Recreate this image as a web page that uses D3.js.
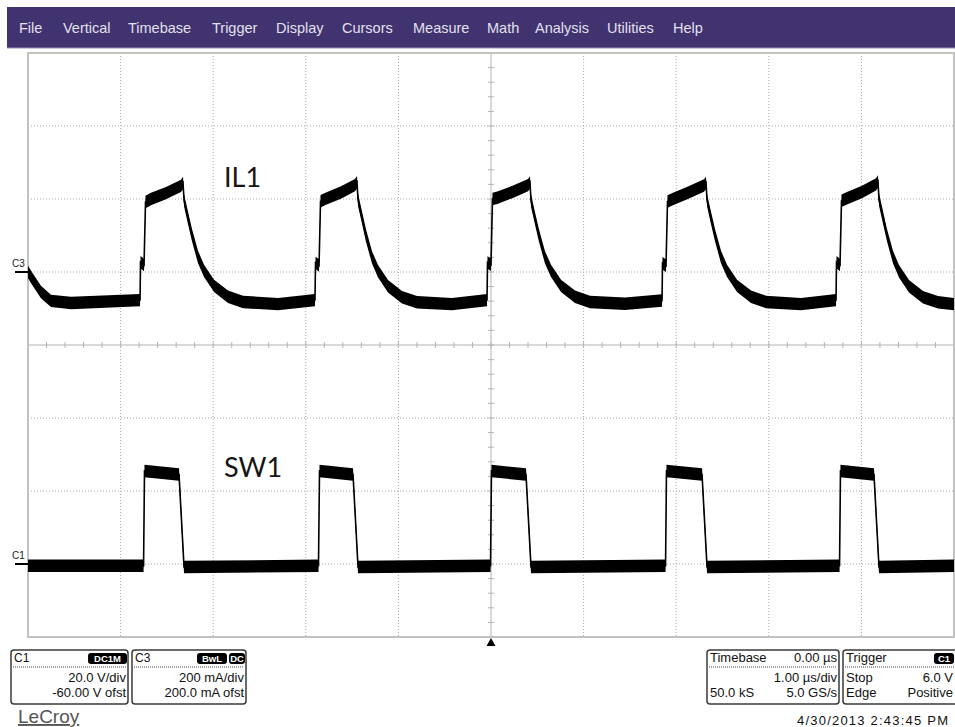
<!DOCTYPE html>
<html>
<head>
<meta charset="utf-8">
<script src="https://cdn.jsdelivr.net/npm/d3@7"></script>
<style>
body { margin: 0; background: #fff; }
svg { display: block; font-family: "Liberation Sans", Arial, sans-serif; }
</style>
</head>
<body>
<script>
// scope capture: menu, two traces (C3 = IL1 current, C1 = SW1 voltage), info boxes

var menuItems = ["File", "Vertical", "Timebase", "Trigger", "Display", "Cursors", "Measure", "Math", "Analysis", "Utilities", "Help"];
var menuX = [19, 63, 128, 212, 276, 342, 413, 487, 535, 607, 673];

// C3 trace, time in us, current in mA
var il1Time = [-5.0, -4.946, -4.860, -4.752, -4.536,
    -3.790, -3.785, -3.747, -3.731, -3.672, -3.510, -3.348, -3.326, -3.315, -3.272, -3.229, -3.164, -3.099, -2.991, -2.840, -2.678, -2.300,
    -1.901, -1.895, -1.857, -1.841, -1.782, -1.620, -1.469, -1.447, -1.436, -1.393, -1.350, -1.285, -1.220, -1.112, -0.961, -0.799, -0.421,
    -0.043, -0.038, 0.000, 0.016, 0.076, 0.238, 0.400, 0.421, 0.432, 0.475, 0.518, 0.583, 0.648, 0.756, 0.907, 1.069, 1.447,
    1.847, 1.852, 1.890, 1.906, 1.965, 2.127, 2.300, 2.322, 2.333, 2.376, 2.419, 2.484, 2.549, 2.657, 2.808, 2.970, 3.348,
    3.726, 3.731, 3.769, 3.785, 3.844, 4.006, 4.158, 4.179, 4.190, 4.233, 4.276, 4.341, 4.406, 4.514, 4.665, 4.827, 5.0];
var il1Current = [0, -22, -55, -79, -85,
    -77, 27, 19, 192, 200, 216, 236, 244, 197, 148, 101, 41, 3, -38, -68, -82, -88,
    -77, 25, 18, 194, 201, 218, 238, 246, 198, 149, 100, 40, 2, -39, -69, -83, -88,
    -77, 26, 20, 200, 204, 220, 238, 245, 196, 147, 100, 40, 3, -38, -68, -82, -87,
    -78, 24, 17, 193, 200, 217, 237, 244, 197, 148, 101, 41, 3, -38, -68, -82, -88,
    -77, 27, 19, 195, 202, 219, 240, 248, 199, 150, 101, 41, 2, -39, -69, -83, -88];
var il1Noise = 17; // half height of noise band, mA

// C1 trace, time in us, voltage in V
var sw1Time = [-5.0, -3.752, -3.742, -3.369, -3.315, -1.863, -1.852, -1.490, -1.436,
    -0.005, 0.005, 0.378, 0.432, 1.885, 1.895, 2.279, 2.333, 3.764, 3.774, 4.136, 4.190, 5.0];
var sw1Voltage = [-0.5, -0.5, 25.5, 24.5, -0.8, -0.5, 25.5, 24.5, -0.8,
    -0.5, 25.5, 24.5, -0.8, -0.5, 25.5, 24.5, -0.8, -0.5, 25.5, 24.5, -0.8, -0.5];
var sw1Noise = 1.7; // V

var traceLabels = ["IL1", "SW1"];

var svgWidth = 955;
var svgHeight = 727;
var gridLeft = 28, gridRight = 954, gridTop = 53, gridBottom = 637;

var svg = d3.select("body").append("svg")
    .attr("width", svgWidth)
    .attr("height", svgHeight);

svg.append("rect").attr("width", svgWidth).attr("height", svgHeight).attr("fill", "#fff");

// menu bar
svg.append("rect")
    .attr("x", 7).attr("y", 7)
    .attr("width", svgWidth - 7).attr("height", 41)
    .attr("fill", "#41336f");
svg.append("line")
    .attr("x1", 7).attr("x2", svgWidth)
    .attr("y1", 48).attr("y2", 48)
    .attr("stroke", "#9a92bf").attr("stroke-width", 1);

svg.selectAll(".menu")
    .data(menuItems)
    .enter()
    .append("text")
    .attr("class", "menu")
    .attr("x", function(d, i) { return menuX[i]; })
    .attr("y", 33)
    .attr("fill", "#e2e0ee")
    .attr("font-size", 14.5)
    .text(function(d) { return d; });

// scales: 10 horizontal divisions of 1 us, 8 vertical divisions
var x = d3.scaleLinear().domain([-5, 5]).range([gridLeft, gridRight]);
var yDiv = d3.scaleLinear().domain([-4, 4]).range([gridBottom, gridTop]);
// C3: 200 mA/div, 200 mA offset
var yC3 = d3.scaleLinear().domain([-1000, 600]).range([gridBottom, gridTop]);
// C1: 20 V/div, -60 V offset
var yC1 = d3.scaleLinear().domain([-20, 140]).range([gridBottom, gridTop]);

var grid = svg.append("g");

grid.selectAll(".vgrid")
    .data(d3.range(-4, 5).filter(function(d) { return d !== 0; }))
    .enter()
    .append("line")
    .attr("x1", function(d) { return x(d); })
    .attr("x2", function(d) { return x(d); })
    .attr("y1", gridTop).attr("y2", gridBottom)
    .attr("stroke", "#a8a8a8").attr("stroke-dasharray", "1,2");

grid.selectAll(".hgrid")
    .data(d3.range(-3, 4).filter(function(d) { return d !== 0; }))
    .enter()
    .append("line")
    .attr("x1", gridLeft).attr("x2", gridRight)
    .attr("y1", function(d) { return yDiv(d); })
    .attr("y2", function(d) { return yDiv(d); })
    .attr("stroke", "#a8a8a8").attr("stroke-dasharray", "1,2");

// centre cross with minor ticks
grid.append("line")
    .attr("x1", x(0)).attr("x2", x(0))
    .attr("y1", gridTop).attr("y2", gridBottom)
    .attr("stroke", "#b4b4b4");
grid.append("line")
    .attr("x1", gridLeft).attr("x2", gridRight)
    .attr("y1", yDiv(0)).attr("y2", yDiv(0))
    .attr("stroke", "#b4b4b4");

grid.selectAll(".xtick")
    .data(d3.range(-50, 51, 2))
    .enter()
    .append("line")
    .attr("x1", function(d) { return x(d / 10); })
    .attr("x2", function(d) { return x(d / 10); })
    .attr("y1", yDiv(0) - 3).attr("y2", yDiv(0) + 3)
    .attr("stroke", "#b4b4b4");

grid.selectAll(".ytick")
    .data(d3.range(-40, 41, 2))
    .enter()
    .append("line")
    .attr("x1", x(0) - 3).attr("x2", x(0) + 3)
    .attr("y1", function(d) { return yDiv(d / 10); })
    .attr("y2", function(d) { return yDiv(d / 10); })
    .attr("stroke", "#b4b4b4");

grid.append("rect")
    .attr("x", gridLeft).attr("y", gridTop)
    .attr("width", gridRight - gridLeft).attr("height", gridBottom - gridTop)
    .attr("fill", "none").attr("stroke", "#c2c2c2").attr("stroke-width", 2);

// traces
function drawTrace(times, values, noise, yScale) {
    var pts = d3.zip(times, values);
    var band = d3.area()
        .x(function(d) { return x(d[0]); })
        .y0(function(d) { return yScale(d[1] - noise); })
        .y1(function(d) { return yScale(d[1] + noise); });
    var line = d3.line()
        .x(function(d) { return x(d[0]); })
        .y(function(d) { return yScale(d[1]); });
    svg.append("path").datum(pts).attr("d", band).attr("fill", "#000");
    svg.append("path").datum(pts).attr("d", line)
        .attr("fill", "none").attr("stroke", "#000").attr("stroke-width", 1.6);
}

drawTrace(il1Time, il1Current, il1Noise, yC3);
drawTrace(sw1Time, sw1Voltage, sw1Noise, yC1);

// channel ground markers
[["C3", yC3(0)], ["C1", yC1(0)]].forEach(function(m) {
    svg.append("line")
        .attr("x1", 15).attr("x2", gridLeft)
        .attr("y1", m[1]).attr("y2", m[1])
        .attr("stroke", "#000").attr("stroke-width", 2);
    svg.append("text")
        .attr("x", 12).attr("y", m[1] - 5)
        .attr("font-size", 10).attr("fill", "#222")
        .text(m[0]);
});

// trace labels
svg.selectAll(".tlabel")
    .data(traceLabels)
    .enter()
    .append("text")
    .attr("class", "tlabel")
    .attr("x", function(d, i) { return i === 0 ? 224 : 224; })
    .attr("y", function(d, i) { return i === 0 ? 187 : 477; })
    .attr("font-family", "Lato, 'Open Sans', sans-serif")
    .attr("font-size", 27)
    .attr("fill", "#151515")
    .text(function(d) { return d; });

// trigger marker
svg.append("path")
    .attr("d", "M" + x(0) + ",638 l-4.5,8 l9,0 z")
    .attr("fill", "#000");

// info boxes
function badge(bx, by, w, label) {
    svg.append("rect")
        .attr("x", bx).attr("y", by).attr("width", w).attr("height", 11)
        .attr("rx", 3).attr("fill", "#000");
    svg.append("text")
        .attr("x", bx + w / 2).attr("y", by + 9)
        .attr("text-anchor", "middle")
        .attr("font-size", 9.5).attr("font-weight", "bold")
        .attr("fill", "#fff")
        .text(label);
}

function infoBox(bx, w, rows, headSize, rightEdge) {
    var by = 650, h = 54;
    var rx = rightEdge || (bx + w - 2);
    svg.append("rect")
        .attr("x", bx).attr("y", by).attr("width", w).attr("height", h)
        .attr("rx", 3).attr("fill", "#fff")
        .attr("stroke", "#3a3a3a").attr("stroke-width", 1.5);
    svg.append("line")
        .attr("x1", bx + 2).attr("x2", bx + w - 2)
        .attr("y1", by + 17).attr("y2", by + 17)
        .attr("stroke", "#444").attr("stroke-dasharray", "1,1");
    var baselines = [by + 12, by + 32, by + 47];
    rows.forEach(function(r, i) {
        if (r[0]) {
            svg.append("text")
                .attr("x", bx + 3).attr("y", baselines[i])
                .attr("font-size", i === 0 ? headSize : 13).attr("fill", "#111")
                .text(r[0]);
        }
        if (r[1]) {
            svg.append("text")
                .attr("x", rx).attr("y", baselines[i])
                .attr("text-anchor", "end")
                .attr("font-size", 13).attr("fill", "#111")
                .text(r[1]);
        }
    });
}

infoBox(11, 117, [["C1", ""], ["", "20.0 V/div"], ["", "-60.00 V ofst"]], 12);
badge(88, 653, 39, "DC1M");
infoBox(132, 114, [["C3", ""], ["", "200 mA/div"], ["", "200.0 mA ofst"]], 12);
badge(197, 653, 30, "BwL");
badge(229, 653, 16, "DC");

infoBox(707, 132, [["Timebase", "0.00 \u00b5s"], ["", "1.00 \u00b5s/div"], ["50.0 kS", "5.0 GS/s"]], 13);
infoBox(843, 118, [["Trigger", ""], ["Stop", "6.0 V"], ["Edge", "Positive"]], 13, 953);
badge(934, 653, 20, "C1");

// brand and timestamp
svg.append("text")
    .attr("x", 18).attr("y", 723)
    .attr("font-size", 19).attr("fill", "#555")
    .attr("text-decoration", "underline")
    .text("LeCroy");

svg.append("text")
    .attr("x", 797).attr("y", 725)
    .attr("font-size", 13).attr("fill", "#111")
    .attr("textLength", 151).attr("lengthAdjust", "spacing")
    .text("4/30/2013 2:43:45 PM");
</script>
</body>
</html>
